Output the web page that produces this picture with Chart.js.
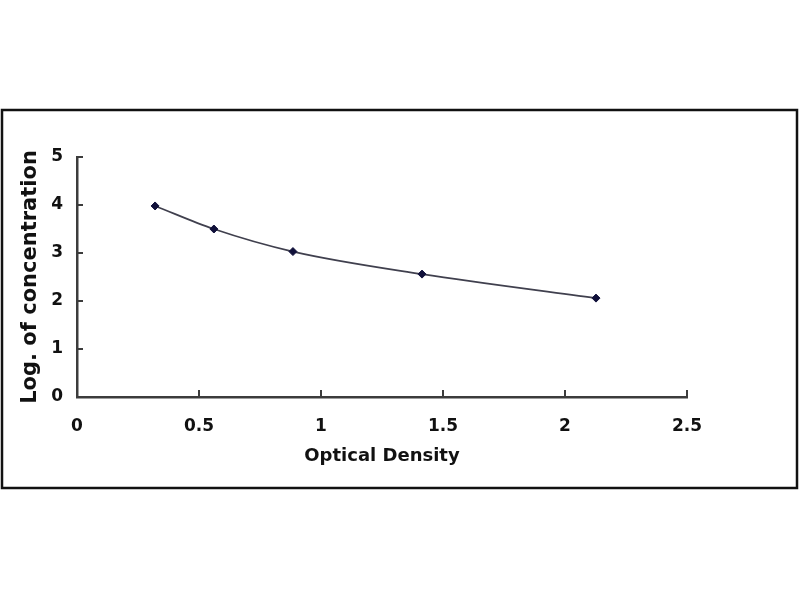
<!DOCTYPE html>
<html>
<head>
<meta charset="utf-8">
<script src="https://cdn.jsdelivr.net/npm/chart.js@4.4.0/dist/chart.umd.min.js"></script>
<style>
  html, body { margin: 0; padding: 0; background: #ffffff; }
  #wrap { position: absolute; left: 0; top: 0; width: 800px; height: 600px; }
</style>
</head>
<body>
<div id="wrap"><canvas id="c" width="800" height="600"></canvas></div>
<script>
// Data
const opticalDensity = [0.32, 0.561, 0.885, 1.414, 2.127];
const logConcentration = [3.98, 3.5, 3.03, 2.56, 2.06];
const xTicks = [0, 0.5, 1, 1.5, 2, 2.5];
const yTicks = [0, 1, 2, 3, 4, 5];
const xTitle = 'Optical Density';
const yTitle = 'Log. of concentration';

const points = opticalDensity.map((x, i) => ({ x: x, y: logConcentration[i] }));

const frameAndTicks = {
  id: 'frameAndTicks',
  beforeDraw(chart) {
    const ctx = chart.ctx;
    ctx.save();
    ctx.fillStyle = '#ffffff';
    ctx.fillRect(0, 0, chart.width, chart.height);
    ctx.restore();
  },
  afterDraw(chart) {
    const ctx = chart.ctx;
    const xs = chart.scales.x, ys = chart.scales.y;
    ctx.save();
    // outer frame
    ctx.strokeStyle = '#111111';
    ctx.lineWidth = 2.5;
    ctx.strokeRect(2, 110, 795, 378);
    // inward tick marks
    ctx.strokeStyle = '#3c3c3c';
    ctx.lineWidth = 2;
    const yb = ys.getPixelForValue(0);
    xTicks.forEach(v => {
      if (v === 0) return;
      const px = xs.getPixelForValue(v);
      ctx.beginPath(); ctx.moveTo(px, yb); ctx.lineTo(px, yb - 7); ctx.stroke();
    });
    const xl = xs.getPixelForValue(0);
    yTicks.forEach(v => {
      if (v === 0) return;
      const py = ys.getPixelForValue(v);
      ctx.beginPath(); ctx.moveTo(xl, py); ctx.lineTo(xl + 6, py); ctx.stroke();
    });
    ctx.restore();
  }
};

new Chart(document.getElementById('c'), {
  type: 'scatter',
  data: {
    datasets: [{
      data: points,
      showLine: true,
      borderColor: '#40404e',
      borderWidth: 1.7,
      tension: 0.4,
      cubicInterpolationMode: 'monotone',
      pointRadius: 4,
      pointHoverRadius: 4,
      pointStyle: 'rectRot',
      pointBackgroundColor: '#10103a',
      pointBorderColor: '#10103a',
      pointBorderWidth: 1
    }]
  },
  options: {
    responsive: false,
    animation: false,
    events: [],
    layout: { padding: { left: 0, right: 113, top: 157, bottom: 0 } },
    plugins: { legend: { display: false }, tooltip: { enabled: false } },
    scales: {
      x: {
        type: 'linear',
        min: 0, max: 2.5,
        afterFit(scale) { scale.height = 203; },
        afterBuildTicks(scale) { scale.ticks = xTicks.map(v => ({ value: v })); },
        grid: { display: true, drawOnChartArea: false, drawTicks: false },
        border: { display: true, color: '#3c3c3c', width: 2.5 },
        ticks: {
          padding: 19,
          color: '#111111',
          font: { family: 'DejaVu Sans', weight: 'bold', size: 17 },
          callback: v => String(v)
        },
        title: {
          display: true,
          text: xTitle,
          color: '#111111',
          font: { family: 'DejaVu Sans', weight: 'bold', size: 18 },
          padding: { top: 0, bottom: 133 }
        }
      },
      y: {
        type: 'linear',
        min: 0, max: 5,
        afterFit(scale) { scale.width = 77; },
        afterBuildTicks(scale) { scale.ticks = yTicks.map(v => ({ value: v })); },
        grid: { display: true, drawOnChartArea: false, drawTicks: false },
        border: { display: true, color: '#3c3c3c', width: 2.5 },
        ticks: {
          padding: 14,
          color: '#111111',
          font: { family: 'DejaVu Sans', weight: 'bold', size: 17 },
          callback: v => String(v)
        },
        title: {
          display: true,
          text: yTitle,
          color: '#111111',
          font: { family: 'DejaVu Sans', weight: 'bold', size: 21 },
          padding: { top: 18, bottom: 0 }
        }
      }
    }
  },
  plugins: [frameAndTicks]
});
</script>
</body>
</html>
